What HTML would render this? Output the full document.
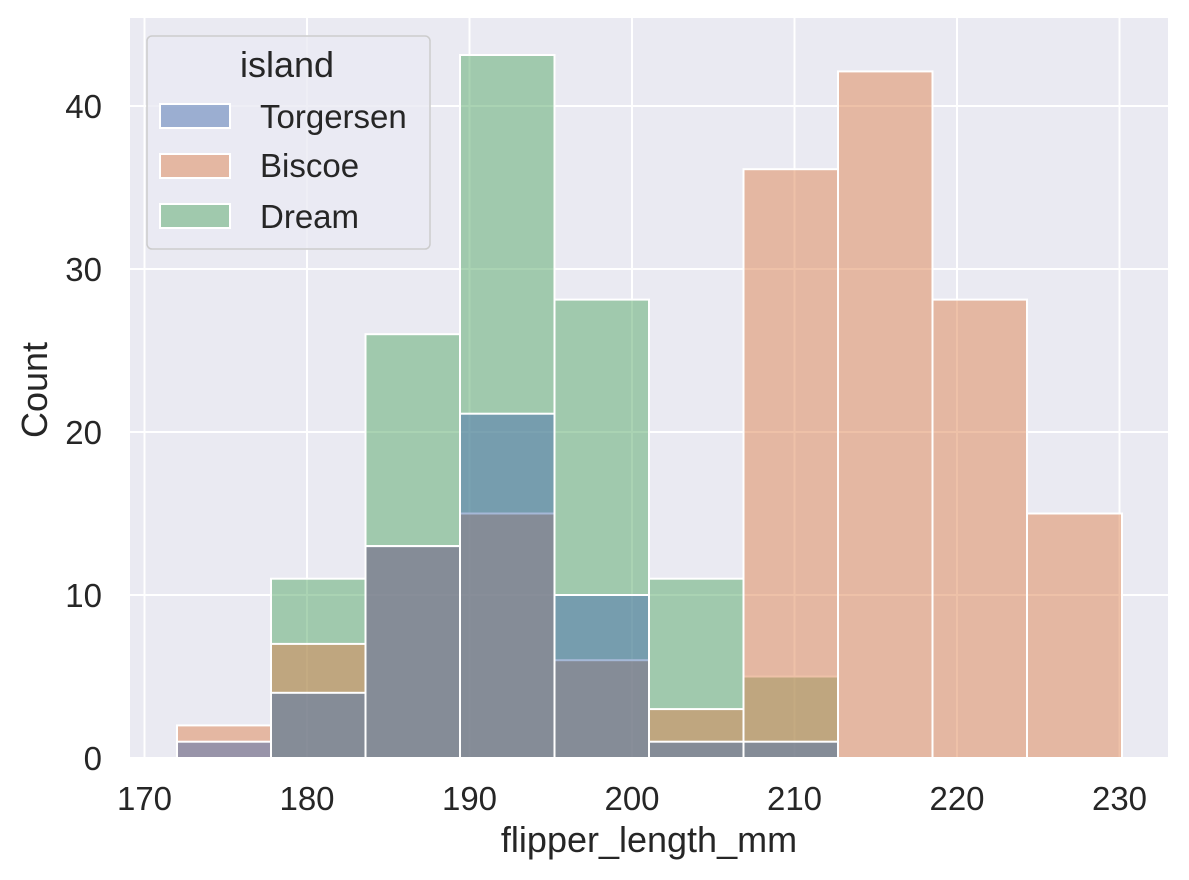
<!DOCTYPE html>
<html><head><meta charset="utf-8"><style>
html,body{margin:0;padding:0;background:#fff;}
svg{display:block;font-family:"Liberation Sans","DejaVu Sans",sans-serif;}
</style></head><body>
<svg width="1189" height="880" viewBox="0 0 1189 880" xmlns="http://www.w3.org/2000/svg">
<rect x="0" y="0" width="1189" height="880" fill="#fff"/>
<rect x="130" y="18" width="1038" height="740" fill="#eaeaf2"/>
<g stroke="#fff" stroke-width="2">
<line x1="144.5" y1="18" x2="144.5" y2="758"/>
<line x1="307" y1="18" x2="307" y2="758"/>
<line x1="469.5" y1="18" x2="469.5" y2="758"/>
<line x1="632" y1="18" x2="632" y2="758"/>
<line x1="794.5" y1="18" x2="794.5" y2="758"/>
<line x1="957" y1="18" x2="957" y2="758"/>
<line x1="1119.5" y1="18" x2="1119.5" y2="758"/>
<line x1="130" y1="758" x2="1168" y2="758"/>
<line x1="130" y1="595" x2="1168" y2="595"/>
<line x1="130" y1="432" x2="1168" y2="432"/>
<line x1="130" y1="269" x2="1168" y2="269"/>
<line x1="130" y1="106" x2="1168" y2="106"/>
</g>
<g fill="#55a868" fill-opacity="0.5" stroke="#fff" stroke-width="2">
<rect x="271" y="578.7" width="94.5" height="179.3"/>
<rect x="365.5" y="334.2" width="94.5" height="423.8"/>
<rect x="460" y="55" width="94.5" height="703"/>
<rect x="554.5" y="299.6" width="94.5" height="458.4"/>
<rect x="649" y="578.7" width="94.5" height="179.3"/>
<rect x="743.5" y="676.5" width="94.5" height="81.5"/>
</g>
<g fill="#dd8452" fill-opacity="0.5" stroke="#fff" stroke-width="2">
<rect x="177" y="725.4" width="94" height="32.6"/>
<rect x="271" y="643.9" width="94.5" height="114.1"/>
<rect x="365.5" y="546.1" width="94.5" height="211.9"/>
<rect x="460" y="513.5" width="94.5" height="244.5"/>
<rect x="554.5" y="660.2" width="94.5" height="97.8"/>
<rect x="649" y="709.1" width="94.5" height="48.9"/>
<rect x="743.5" y="169.2" width="94.5" height="588.8"/>
<rect x="838" y="71.4" width="94.5" height="686.6"/>
<rect x="932.5" y="299.6" width="94.5" height="458.4"/>
<rect x="1027" y="513.5" width="95" height="244.5"/>
</g>
<g fill="#4c72b0" fill-opacity="0.5" stroke="#fff" stroke-width="2">
<rect x="177" y="741.7" width="94" height="16.3"/>
<rect x="271" y="692.8" width="94.5" height="65.2"/>
<rect x="365.5" y="546.1" width="94.5" height="211.9"/>
<rect x="460" y="413.7" width="94.5" height="344.3"/>
<rect x="554.5" y="595" width="94.5" height="163"/>
<rect x="649" y="741.7" width="94.5" height="16.3"/>
<rect x="743.5" y="741.7" width="94.5" height="16.3"/>
</g>
<g font-size="33" fill="#262626" text-anchor="middle">
<text x="144.5" y="810">170</text>
<text x="307" y="810">180</text>
<text x="469.5" y="810">190</text>
<text x="632" y="810">200</text>
<text x="794.5" y="810">210</text>
<text x="957" y="810">220</text>
<text x="1119.5" y="810">230</text>
</g>
<g font-size="33" fill="#262626" text-anchor="end">
<text x="102" y="770">0</text>
<text x="102" y="607">10</text>
<text x="102" y="444">20</text>
<text x="102" y="281">30</text>
<text x="102" y="118">40</text>
</g>
<text x="649" y="852" font-size="36" fill="#262626" text-anchor="middle">flipper_length_mm</text>
<text x="47" y="390" font-size="36" fill="#262626" text-anchor="middle" transform="rotate(-90 47 390)">Count</text>
<rect x="147" y="36" width="283" height="213" rx="5" fill="#eaeaf2" fill-opacity="0.8" stroke="#cccccc" stroke-width="1.5"/>
<text x="287" y="77" font-size="36" fill="#262626" text-anchor="middle">island</text>
<rect x="160" y="104" width="70" height="24" fill="#4c72b0" fill-opacity="0.5" stroke="#fff" stroke-width="2"/>
<rect x="160" y="154" width="70" height="24" fill="#dd8452" fill-opacity="0.5" stroke="#fff" stroke-width="2"/>
<rect x="160" y="204" width="70" height="24" fill="#55a868" fill-opacity="0.5" stroke="#fff" stroke-width="2"/>
<g font-size="33" fill="#262626">
<text x="260" y="128">Torgersen</text>
<text x="260" y="177">Biscoe</text>
<text x="260" y="228">Dream</text>
</g>
</svg>
</body></html>
